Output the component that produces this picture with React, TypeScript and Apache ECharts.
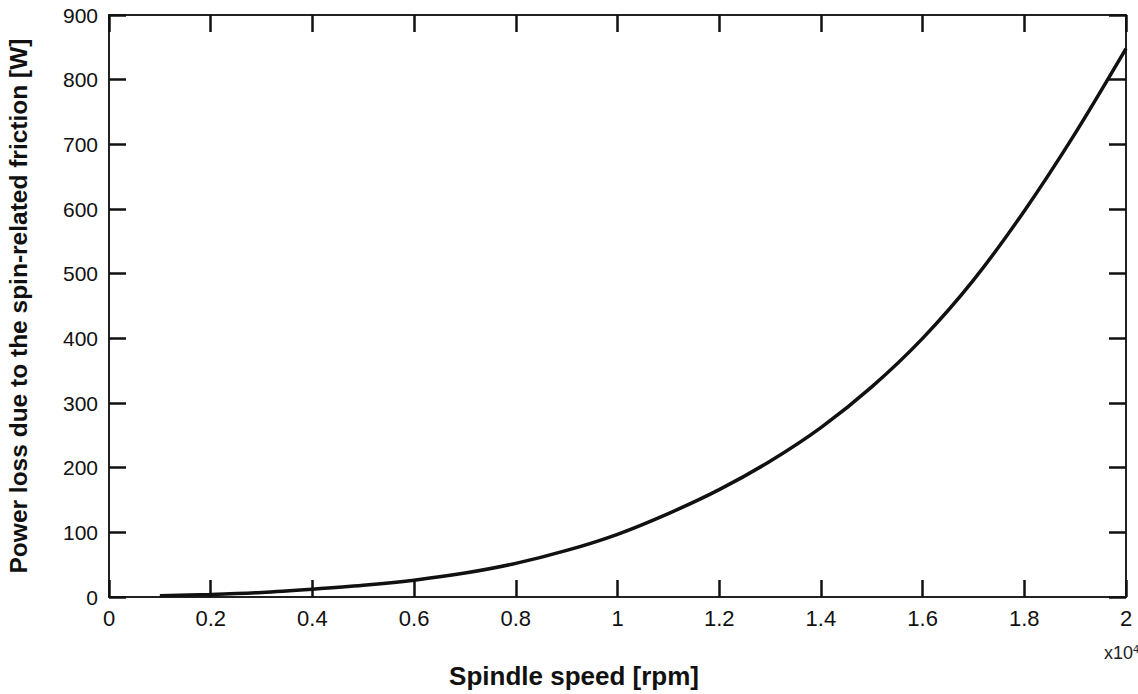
import React, { useEffect, useRef } from "react";
import * as echarts from "echarts";

const speeds = [0.1, 0.2, 0.3, 0.4, 0.5, 0.6, 0.7, 0.8, 0.9, 1.0, 1.1, 1.2, 1.3, 1.4, 1.5, 1.6, 1.7, 1.8, 1.9, 2.0];
const powerLoss = [2, 4, 7, 12, 18, 26, 37, 52, 72, 97, 129, 166, 210, 262, 325, 400, 490, 597, 717, 848];
const xTicks = [0, 0.2, 0.4, 0.6, 0.8, 1, 1.2, 1.4, 1.6, 1.8, 2];
const yTicks = [0, 100, 200, 300, 400, 500, 600, 700, 800, 900];

export default function App() {
  const ref = useRef<HTMLDivElement>(null);
  useEffect(() => {
    if (!ref.current) return;
    const chart = echarts.init(ref.current, null, { renderer: "svg" });
    const font = "'Liberation Sans', Arial, sans-serif";
    const axisLine = { show: true, onZero: false, lineStyle: { color: "#222", width: 2 } };
    const tick = { show: true, inside: true, length: 17, lineStyle: { color: "#111", width: 2.5 } };
    const data = speeds.map((s, i) => [s, powerLoss[i]]);
    chart.setOption({
      animation: false,
      backgroundColor: "#fff",
      grid: { left: 109, right: 12, top: 15, bottom: 97, containLabel: false, outerBoundsMode: "none" },
      xAxis: [
        {
          type: "value", min: 0, max: 2, interval: 0.2, position: "bottom",
          axisLine, axisTick: tick, splitLine: { show: false },
          axisLabel: { show: true, margin: 10, color: "#111", fontSize: 22, fontFamily: font,
            formatter: (v: number) => { const t = xTicks.find(k => Math.abs(k - v) < 1e-6); return t === undefined ? "" : String(t); } },
        },
        {
          type: "value", min: 0, max: 2, interval: 0.2, position: "top",
          axisLine, axisTick: tick, splitLine: { show: false }, axisLabel: { show: false },
        },
      ],
      yAxis: [
        {
          type: "value", min: 0, max: 900, interval: 100, position: "left",
          axisLine, axisTick: tick, splitLine: { show: false },
          axisLabel: { show: true, margin: 11, color: "#111", fontSize: 21, fontFamily: font,
            formatter: (v: number) => (yTicks.includes(v) ? String(v) : "") },
          name: "Power loss due to the spin-related friction [W]",
          nameLocation: "middle", nameGap: 78, nameRotate: 90,
          nameTextStyle: { color: "#111", fontSize: 24.5, fontWeight: "bold", fontFamily: font },
        },
        {
          type: "value", min: 0, max: 900, interval: 100, position: "right",
          axisLine, axisTick: tick, splitLine: { show: false }, axisLabel: { show: false },
        },
      ],
      series: [
        {
          type: "line", data, smooth: 0.3, symbol: "none",
          lineStyle: { color: "#111", width: 3.5 },
          xAxisIndex: 0, yAxisIndex: 0,
        },
      ],
      graphic: [
        {
          type: "text", x: 574, y: 676,
          style: { text: "Spindle speed [rpm]", fill: "#111", font: `bold 26px ${font}`, align: "center", verticalAlign: "middle" },
        },
        {
          type: "text", left: 1104, top: 643,
          style: {
            text: "{b|x10}{s|4}",
            rich: {
              b: { fontSize: 18, fontFamily: font, fill: "#222", verticalAlign: "bottom" },
              s: { fontSize: 11, fontFamily: font, fill: "#222", verticalAlign: "top", padding: [0, 0, 8, 0] },
            },
          },
        },
      ],
    });
    return () => chart.dispose();
  }, []);
  return <div ref={ref} style={{ position: "fixed", left: 0, top: 0, width: 1138, height: 694 }} />;
}
